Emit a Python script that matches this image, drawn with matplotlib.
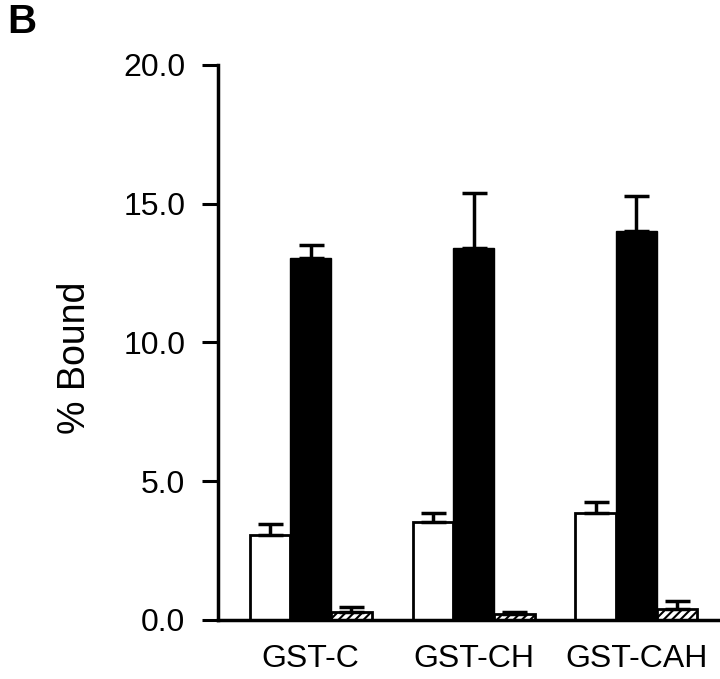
import numpy as np
import matplotlib.pyplot as plt

plt.rcParams['font.family'] = ['Liberation Sans', 'DejaVu Sans']
plt.rcParams['hatch.linewidth'] = 1.5

groups = ['GST-C', 'GST-CH', 'GST-CAH']
open_vals = [3.06, 3.53, 3.86]
open_err = [0.40, 0.33, 0.39]
solid_vals = [13.05, 13.4, 14.0]
solid_err = [0.45, 2.0, 1.28]
hatched_vals = [0.29, 0.2, 0.4]
hatched_err = [0.18, 0.09, 0.3]
yticks = [0, 5, 10, 15, 20]

fig = plt.figure(figsize=(7.2, 6.79), dpi=100)
ax = fig.add_axes([0.3028, 0.0869, 0.694, 0.8174])

x = np.arange(len(groups))
w = 0.25
err_kw = dict(elinewidth=2.5, capsize=9, capthick=2.5, ecolor='black')

ax.bar(x - w, open_vals, w, color='white', edgecolor='black', linewidth=2,
       yerr=[np.zeros(3), open_err], error_kw=err_kw, zorder=2)
ax.bar(x, solid_vals, w, color='black', edgecolor='black', linewidth=1,
       yerr=[np.zeros(3), solid_err], error_kw=err_kw, zorder=2)
ax.bar(x + w, hatched_vals, w, color='white', edgecolor='black', linewidth=2,
       hatch='////', yerr=[np.zeros(3), hatched_err], error_kw=err_kw, zorder=2)

ax.set_xlim(-0.57, 2.5)
ax.set_ylim(0, 20)
ax.set_yticks(yticks)
ax.set_yticklabels(['%.1f' % v for v in yticks], fontsize=23)
ax.set_xticks(x)
ax.set_xticklabels(groups, fontsize=23)
ax.tick_params(axis='x', length=0, pad=17)
ax.tick_params(axis='y', length=11.5, width=2.2, pad=12)

for s in ['top', 'right']:
    ax.spines[s].set_visible(False)
for s in ['left', 'bottom']:
    ax.spines[s].set_linewidth(2.5)

ax.set_ylabel('% Bound', fontsize=27)
ax.yaxis.set_label_coords(-0.25, 0.473)
fig.text(0.01, 0.995, 'B', fontsize=29, fontweight='bold', va='top', ha='left')

fig.savefig('out.png', dpi=100)
